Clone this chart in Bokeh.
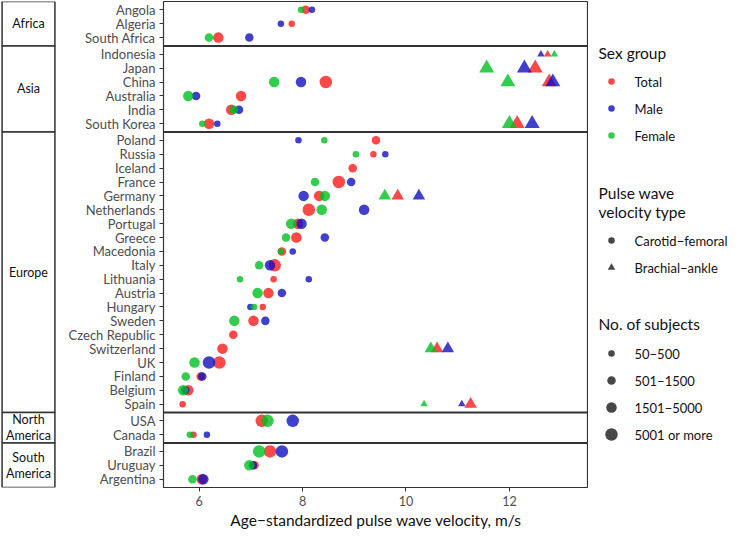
from bokeh.plotting import figure
from bokeh.models import Range1d, FixedTicker, Span, ColumnDataSource
from bokeh.layouts import row
from bokeh.embed import file_html
from bokeh.resources import INLINE
from bokeh.core.properties import value

# ---------------- data ----------------
regions = ["Africa", "Asia", "Europe", "North America", "South America"]
region_labels = ["Africa", "Asia", "Europe", "North\nAmerica", "South\nAmerica"]
region_countries = [
    ["Angola", "Algeria", "South Africa"],
    ["Indonesia", "Japan", "China", "Australia", "India", "South Korea"],
    ["Poland", "Russia", "Iceland", "France", "Germany", "Netherlands", "Portugal",
     "Greece", "Macedonia", "Italy", "Lithuania", "Austria", "Hungary", "Sweden",
     "Czech Republic", "Switzerland", "UK", "Finland", "Belgium", "Spain"],
    ["USA", "Canada"],
    ["Brazil", "Uruguay", "Argentina"],
]
countries = [c for grp in region_countries for c in grp]

N = None
# Carotid-femoral PWV (m/s), order = countries
cf_total = [8.06, 7.79, 6.37,
            N, N, 8.45, 6.81, 6.62, 6.19,
            9.42, 9.37, 8.97, 8.70, 8.32, 8.12, 7.91, 7.88, 7.60, 7.46, 7.44, 7.34, 7.23,
            7.05, 6.66, 6.45, 6.39, 6.03, 5.79, 5.68,
            7.21, 5.89,
            7.37, 7.07, 6.05]
cf_male = [8.18, 7.58, 6.97,
           N, N, 7.97, 5.94, 6.77, 6.35,
           7.92, 9.60, N, 8.94, 8.02, 9.19, 7.98, 8.43, 7.81, 7.37, 8.12, 7.60, 6.99,
           7.28, N, N, 6.19, 6.06, 5.73, N,
           7.81, 6.15,
           7.60, 7.04, 6.08]
cf_female = [7.97, N, 6.19,
             N, N, 7.45, 5.79, 6.67, 6.06,
             8.42, 9.03, N, 8.24, 8.43, 8.37, 7.78, 7.68, 7.58, 7.16, 6.79, 7.13, 7.06,
             6.68, N, N, 5.91, 5.74, 5.69, N,
             7.32, 5.82,
             7.16, 6.97, 5.87]
# subject-count class (1: 50-500, 2: 501-1500, 3: 1501-5000, 4: 5001 or more)
cf_total_n = [2, 1, 3,
              N, N, 4, 3, 3, 3,
              2, 1, 2, 4, 3, 4, 3, 3, 2, 4, 1, 3, 1,
              3, 2, 3, 4, 2, 3, 1,
              4, 1,
              4, 2, 3]
cf_male_n = [1, 1, 2,
             N, N, 3, 2, 2, 1,
             1, 1, N, 2, 3, 3, 3, 2, 1, 3, 1, 2, 1,
             2, N, N, 4, 2, 2, N,
             4, 1,
             4, 2, 3]
cf_female_n = [1, N, 2,
               N, N, 3, 3, 2, 1,
               1, 1, N, 2, 3, 3, 3, 2, 1, 2, 1, 3, 1,
               3, N, N, 3, 2, 3, N,
               4, 1,
               4, 3, 2]

# Brachial-ankle PWV (m/s)
ba_countries = ["Indonesia", "Japan", "China", "South Korea", "Germany", "Switzerland", "Spain"]
ba_total = [12.74, 12.50, 12.77, 12.15, 9.84, 10.60, 11.25]
ba_male = [12.61, 12.29, 12.84, 12.44, 10.25, 10.81, 11.08]
ba_female = [12.87, 11.56, 11.97, 12.00, 9.59, 10.48, 10.35]
ba_total_n = [1, 4, 4, 4, 3, 3, 3]
ba_male_n = [1, 4, 4, 4, 3, 3, 1]
ba_female_n = [1, 4, 4, 4, 3, 3, 1]

sex_groups = ["Total", "Male", "Female"]
pwv_types = ["Carotid\u2212femoral", "Brachial\u2212ankle"]
size_labels = ["50\u2212500", "501\u22121500", "1501\u22125000", "5001 or more"]
x_ticks = [6, 8, 10, 12]

# ---------------- style ----------------
FONT = "Lato"
COLORS = {"Total": "#ff1a1a", "Male": "#1010c0", "Female": "#00c020"}
ALPHA = 0.8
CIRCLE_SIZE = [6.5, 8.5, 10.5, 12.5]
TRI_SIZE = [7.5, 10, 12.5, 15]
BORDER = "#333333"

# ---------------- layout of rows ----------------
UNIT, PAD = 5, 3
total_h = sum(UNIT * (len(g) - 1) + 2 * PAD for g in region_countries)
ypos = {}
panel_tops, panel_bottoms = [], []
cur = total_h
for grp in region_countries:
    top = cur
    for i, c in enumerate(grp):
        ypos[c] = top - PAD - UNIT * i
    bottom = top - (UNIT * (len(grp) - 1) + 2 * PAD)
    panel_tops.append(top)
    panel_bottoms.append(bottom)
    cur = bottom

FRAME_H = 486
TOP_B = 1
BOT_B = 43
STRIP_W = 56
yr = Range1d(0, total_h)

# ---------------- main plot ----------------
p = figure(frame_width=425, frame_height=FRAME_H, x_range=Range1d(5.31, 13.53), y_range=yr,
           output_backend="svg", toolbar_location=None,
           min_border_left=163 - STRIP_W, min_border_right=0, min_border_top=TOP_B,
           min_border_bottom=BOT_B)
p.xgrid.visible = False
p.ygrid.visible = False
p.outline_line_color = BORDER
p.outline_line_width = 1.2
p.background_fill_color = "white"
p.border_fill_color = "white"

for b in panel_bottoms[:-1]:
    p.add_layout(Span(location=b, dimension="width", line_color=BORDER, line_width=2))

p.xaxis.ticker = FixedTicker(ticks=x_ticks)
p.yaxis.ticker = FixedTicker(ticks=[ypos[c] for c in countries])
p.yaxis.major_label_overrides = {ypos[c]: c for c in countries}
for ax in (p.xaxis[0], p.yaxis[0]):
    ax.axis_line_color = None
    ax.major_tick_line_color = BORDER
    ax.major_tick_out = 4
    ax.major_tick_in = 0
    ax.minor_tick_line_color = None
    ax.major_label_text_font = FONT
    ax.major_label_text_color = "#4d4d4d"
    ax.major_label_standoff = 4
p.yaxis.major_label_text_font_size = "13px"
p.xaxis.major_label_text_font_size = "12.5px"
p.xaxis.axis_label = "Age\u2212standardized pulse wave velocity, m/s"
p.xaxis.axis_label_text_font = FONT
p.xaxis.axis_label_text_font_size = "15.5px"
p.xaxis.axis_label_text_font_style = "normal"
p.xaxis.axis_label_text_color = "#111111"
p.xaxis.axis_label_standoff = 2


def series(vals, ns, names, sizes):
    xs, ys, ss = [], [], []
    for v, n, c in zip(vals, ns, names):
        if v is None:
            continue
        xs.append(v)
        ys.append(ypos[c])
        ss.append(sizes[n - 1])
    return ColumnDataSource(dict(x=xs, y=ys, s=ss))


cf = {"Total": (cf_total, cf_total_n), "Male": (cf_male, cf_male_n), "Female": (cf_female, cf_female_n)}
ba = {"Total": (ba_total, ba_total_n), "Male": (ba_male, ba_male_n), "Female": (ba_female, ba_female_n)}
for g in sex_groups:
    src = series(cf[g][0], cf[g][1], countries, CIRCLE_SIZE)
    p.scatter("x", "y", size="s", source=src, marker="circle", fill_color=COLORS[g],
              fill_alpha=ALPHA, line_color=None)
for g in sex_groups:
    src = series(ba[g][0], ba[g][1], ba_countries, TRI_SIZE)
    p.scatter("x", "y", size="s", source=src, marker="triangle", fill_color=COLORS[g],
              fill_alpha=ALPHA, line_color=None)

# ---------------- strips ----------------
s = figure(frame_width=STRIP_W, frame_height=FRAME_H, x_range=Range1d(-0.03, 1.03), y_range=yr,
           output_backend="svg", toolbar_location=None, x_axis_location=None, y_axis_location=None,
           min_border_left=0, min_border_right=0, min_border_top=TOP_B, min_border_bottom=BOT_B)
s.xgrid.visible = False
s.ygrid.visible = False
s.outline_line_color = None
s.border_fill_color = "white"
centers = [(t + b) / 2 for t, b in zip(panel_tops, panel_bottoms)]
s.quad(left=0, right=1, top=panel_tops, bottom=panel_bottoms, fill_color="white",
       line_color=BORDER, line_width=1.5)
s.text(x=[0.5] * len(regions), y=centers, text=region_labels, text_align="center",
       text_baseline="middle", text_font=value(FONT), text_font_size="12.5px",
       text_color="#111111", text_line_height=1.05)

# ---------------- legend ----------------
LW, LH = 734 - STRIP_W - (163 - STRIP_W) - 425, 530
lg = figure(frame_width=LW, frame_height=LH, x_range=Range1d(0, LW), y_range=Range1d(LH, 0),
            output_backend="svg", toolbar_location=None, x_axis_location=None, y_axis_location=None,
            min_border_left=0, min_border_right=0, min_border_top=0, min_border_bottom=0)
lg.xgrid.visible = False
lg.ygrid.visible = False
lg.outline_line_color = None
lg.border_fill_color = "white"

TX, KX, LX = 10, 23, 46
STEP = 27
KEY_COL = "#333333"


def title(lines, y0):
    lg.text(x=[TX] * len(lines), y=[y0 + 19 * i for i in range(len(lines))], text=lines,
            text_font=value(FONT), text_font_size="15.5px", text_baseline="middle",
            text_color="#111111")
    return y0 + 19 * (len(lines) - 1)


def labels(texts, y0):
    ys = [y0 + STEP * i for i in range(len(texts))]
    lg.text(x=[LX] * len(texts), y=ys, text=texts, text_font=value(FONT),
            text_font_size="13px", text_baseline="middle", text_color="#111111")
    return ys


yt = title(["Sex group"], 51)
ys = labels(sex_groups, yt + 29)
lg.scatter(x=[KX] * 3, y=ys, size=CIRCLE_SIZE[0], marker="circle",
           fill_color=[COLORS[g] for g in sex_groups], fill_alpha=ALPHA, line_color=None)

yt = title(["Pulse wave", "velocity type"], ys[-1] + 57)
ys = labels(pwv_types, yt + 29)
lg.scatter(x=[KX], y=[ys[0]], size=CIRCLE_SIZE[0], marker="circle", fill_color=KEY_COL,
           fill_alpha=0.9, line_color=None)
lg.scatter(x=[KX], y=[ys[1]], size=TRI_SIZE[0], marker="triangle", fill_color=KEY_COL,
           fill_alpha=0.9, line_color=None)

yt = title(["No. of subjects"], ys[-1] + 56)
ys = labels(size_labels, yt + 30)
lg.scatter(x=[KX] * 4, y=ys, size=CIRCLE_SIZE, marker="circle", fill_color=KEY_COL,
           fill_alpha=0.9, line_color=None)

layout = row(s, p, lg, spacing=0)
open("out.html", "w").write(file_html(layout, INLINE))
